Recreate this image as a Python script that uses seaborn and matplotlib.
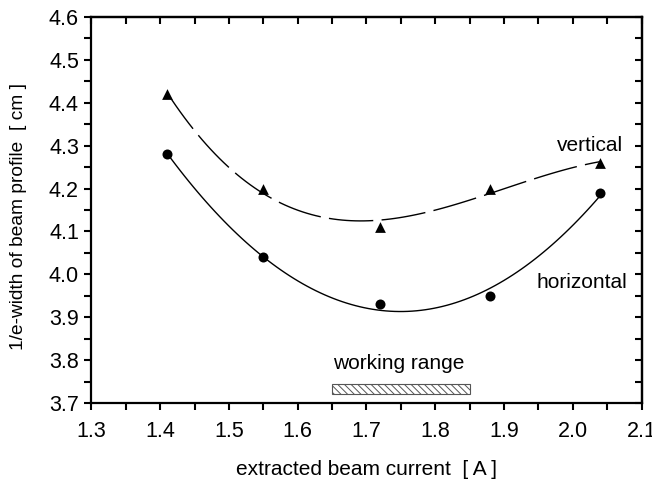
import matplotlib
matplotlib.use("Agg")
import matplotlib.pyplot as plt
from matplotlib.ticker import MultipleLocator
from matplotlib.patches import Rectangle
import seaborn as sns

# beam current [A] and measured 1/e widths [cm]
current = [1.41, 1.55, 1.72, 1.88, 2.04]
width_vertical = [4.42, 4.20, 4.11, 4.20, 4.26]
width_horizontal = [4.28, 4.04, 3.93, 3.95, 4.19]

work_lo, work_hi = 1.65, 1.85

sns.set_theme(style="white")
plt.rcParams["font.family"] = ["Liberation Sans", "DejaVu Sans"]
plt.rcParams["hatch.color"] = "#444444"
plt.rcParams["hatch.linewidth"] = 0.7
plt.rcParams["text.color"] = "black"
plt.rcParams["axes.labelcolor"] = "black"
plt.rcParams["xtick.color"] = "black"
plt.rcParams["ytick.color"] = "black"

fig = plt.figure(figsize=(6.52, 4.8), dpi=100)
ax = fig.add_axes([0.1403, 0.1604, 0.8436, 0.8042])

# polynomial fits through the measurements
sns.regplot(x=current, y=width_vertical, order=3, ci=None, ax=ax,
            scatter=False, line_kws=dict(color="black", lw=1.0, dashes=(32, 6)))
sns.regplot(x=current, y=width_horizontal, order=2, ci=None, ax=ax,
            scatter=False, line_kws=dict(color="black", lw=1.0))
sns.scatterplot(x=current, y=width_vertical, marker="^", s=60, color="black",
                edgecolor="black", linewidth=0, ax=ax, zorder=5)
sns.scatterplot(x=current, y=width_horizontal, marker="o", s=52, color="black",
                edgecolor="black", linewidth=0, ax=ax, zorder=5)

# working range bar
ax.add_patch(Rectangle((work_lo, 3.72), work_hi - work_lo, 0.025,
                       facecolor="white", edgecolor="#555555", hatch="\\\\\\\\\\",
                       lw=0.8))
ax.text((work_lo + work_hi) / 2 - 0.003, 3.792, "working range", ha="center",
        va="center", fontsize=15)
ax.text(2.025, 4.30, "vertical", ha="center", va="center", fontsize=15)
ax.text(2.013, 3.98, "horizontal", ha="center", va="center", fontsize=15)

ax.set_xlim(1.3, 2.1)
ax.set_ylim(3.7, 4.6)
ax.xaxis.set_major_locator(MultipleLocator(0.1))
ax.xaxis.set_minor_locator(MultipleLocator(0.05))
ax.yaxis.set_major_locator(MultipleLocator(0.1))
ax.yaxis.set_minor_locator(MultipleLocator(0.05))
ax.xaxis.set_major_formatter(plt.FormatStrFormatter("%.1f"))
ax.yaxis.set_major_formatter(plt.FormatStrFormatter("%.1f"))
ax.tick_params(which="both", direction="out", length=5, width=1.5,
               color="black", labelcolor="black", labelsize=15.5,
               bottom=True, left=True)
ax.tick_params(axis="x", pad=8)
ax.tick_params(axis="y", pad=4)

for sp in ax.spines.values():
    sp.set_color("black")
    sp.set_linewidth(1.6)

# inward ticks on top and right
top = ax.secondary_xaxis("top")
right = ax.secondary_yaxis("right")
for sec in (top, right):
    sec_axis = sec.xaxis if sec is top else sec.yaxis
    sec_axis.set_major_locator(MultipleLocator(0.05))
    sec.tick_params(which="both", direction="in", length=5, width=1.5,
                    color="black", labelsize=0)
    sec_axis.set_ticklabels([])
    for sp in sec.spines.values():
        sp.set_color("black")
        sp.set_linewidth(1.6)

ax.set_xlabel("extracted beam current  [ A ]", fontsize=15, labelpad=13)
ax.set_ylabel("1/e-width of beam profile  [ cm ]", fontsize=13.8)
ax.yaxis.set_label_coords(-0.117, 0.482)

fig.savefig("out.png", dpi=100)
